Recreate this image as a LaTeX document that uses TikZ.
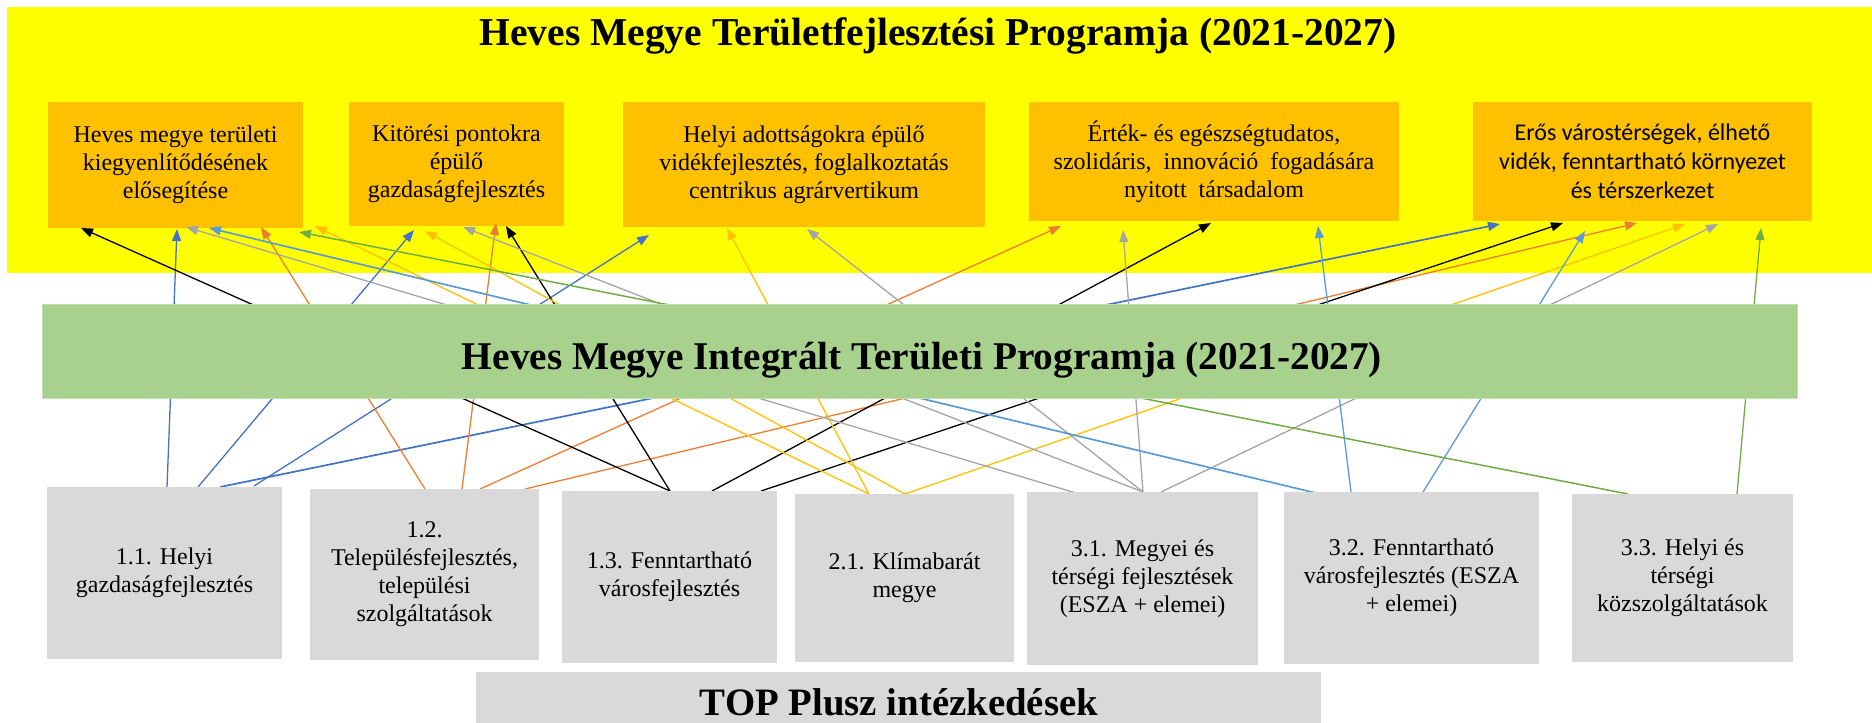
\documentclass[tikz,border=0pt]{standalone}
\usepackage{fontspec}
\setmainfont{Liberation Serif}
\newfontfamily\calibrifont{Carlito}
\usetikzlibrary{arrows.meta,calc}
\definecolor{cYel}{HTML}{FFFF00}
\definecolor{cOrg}{HTML}{FFC000}
\definecolor{cGrn}{HTML}{A9D18E}
\definecolor{cGry}{HTML}{D9D9D9}
\definecolor{lBlu}{HTML}{4472C4}
\definecolor{lOrg}{HTML}{ED7D31}
\definecolor{lGld}{HTML}{FFC000}
\definecolor{lGry}{HTML}{A5A5A5}
\definecolor{lLbl}{HTML}{5B9BD5}
\definecolor{lGrn}{HTML}{70AD47}
\begin{document}
\begin{tikzpicture}[x=1pt,y=-1pt,
  box/.style={anchor=north west, inner sep=0pt, outer sep=0pt, align=center,
    font=\fontsize{24}{28}\selectfont},
  obox/.style={box, fill=cOrg},
  gbox/.style={box, fill=cGry},
  bigtitle/.style={font=\fontsize{39.5}{44}\selectfont\bfseries, inner sep=0pt},
  conn/.style={line width=1.3pt, -{Triangle[length=12pt,width=9pt]}},
]
\useasboundingbox (0,0) rectangle (1872,723);
\fill[white] (0,0) rectangle (1872,723);

% yellow background
\node[box, fill=cYel, minimum width=1865pt, minimum height=266pt] (bg) at (7,7) {};
\node[bigtitle, anchor=base] (title) at (938,45) {Heves Megye Területfejlesztési Programja (2021-2027)};

% orange target boxes
\node[obox, minimum width=255pt, minimum height=126pt] (tA) at (48,102)
  {Heves megye területi\\kiegyenlítődésének\\elősegítése};
\node[obox, minimum width=215pt, minimum height=124pt] (tB) at (349,102)
  {Kitörési pontokra\\épülő\\gazdaságfejlesztés};
\node[obox, minimum width=362pt, minimum height=125pt] (tC) at (623,102)
  {Helyi adottságokra épülő\\vidékfejlesztés, foglalkoztatás\\centrikus agrárvertikum};
\node[obox, minimum width=370pt, minimum height=119pt] (tD) at (1029,102)
  {Érték- és egészségtudatos,\\szolidáris,\ \ innováció\ \ fogadására\\nyitott\ \ társadalom};
\node[obox, minimum width=339pt, minimum height=119pt,
  font=\calibrifont\fontsize{24}{29}\selectfont] (tE) at (1473,102)
  {Erős várostérségek, élhető\\vidék, fenntartható környezet\\és térszerkezet};

% bottom boxes (positions only, drawn after connectors)
\path
  (47,487)   coordinate (p11)
  (310,489)  coordinate (p12)
  (562,491)  coordinate (p13)
  (795,494)  coordinate (p21)
  (1027,492) coordinate (p31)
  (1284,492) coordinate (p32)
  (1572,494) coordinate (p33);

% connectors
% 1.1 blue
\draw[conn, lBlu] ($(p11)+(120,0)$) -- ($(tA.south west)+(129,1)$);
\draw[conn, lBlu] ($(p11)+(151,0)$) -- ($(tB.south west)+(65,4)$);
\draw[conn, lBlu, line width=1.7pt] ($(p11)+(173,0)$) -- ($(tE.south west)+(27,3)$);
\draw[conn, lBlu] ($(p11)+(207,-1)$) -- ($(tC.south west)+(26,8)$);
% 1.2 orange
\draw[conn, lOrg] ($(p12)+(115,0)$) -- ($(tA.south west)+(213,-1)$);
\draw[conn, lOrg] ($(p12)+(152,0)$) -- ($(tB.south west)+(147,-3)$);
\draw[conn, lOrg] ($(p12)+(170,0)$) -- ($(tD.south west)+(32,5)$);
\draw[conn, lOrg] ($(p12)+(215,0)$) -- ($(tE.south west)+(164,2)$);
% 1.3 black
\draw[conn, black] ($(p13)+(108,0)$) -- ($(tA.south west)+(33,0)$);
\draw[conn, black] ($(p13)+(108,0)$) -- ($(tB.south west)+(157,0)$);
\draw[conn, black] ($(p13)+(150,0)$) -- ($(tD.south west)+(182,2)$);
\draw[conn, black] ($(p13)+(199,0)$) -- ($(tE.south west)+(90,2)$);
% 2.1 gold
\draw[conn, lGld] ($(p21)+(74,0)$) -- ($(tA.south west)+(267,-2)$);
\draw[conn, lGld] ($(p21)+(74,0)$) -- ($(tC.south west)+(104,1)$);
\draw[conn, lGld] ($(p21)+(110,0)$) -- ($(tB.south west)+(76,5)$);
\draw[conn, lGld] ($(p21)+(110,0)$) -- ($(tE.south west)+(212,3)$);
% 3.1 gray
\draw[conn, lGry] ($(p31)+(49,1)$) -- ($(tA.south west)+(138,-1)$);
\draw[conn, lGry] ($(p31)+(116,0)$) -- ($(tB.south west)+(114,1)$);
\draw[conn, lGry] ($(p31)+(116,0)$) -- ($(tC.south west)+(184,2)$);
\draw[conn, lGry] ($(p31)+(116,0)$) -- ($(tD.south west)+(94,9)$);
\draw[conn, lGry] ($(p31)+(134,0)$) -- ($(tE.south west)+(245,3)$);
% 3.2 light blue
\draw[conn, lLbl, line width=1.7pt] ($(p32)+(32,1)$) -- ($(tA.south west)+(161,0)$);
\draw[conn, lLbl] ($(p32)+(67,0)$) -- ($(tD.south west)+(289,5)$);
\draw[conn, lLbl] ($(p32)+(139,0)$) -- ($(tE.south west)+(112,10)$);
% 3.3 green
\draw[conn, lGrn, line width=1.5pt] ($(p33)+(56,0)$) -- ($(tA.south west)+(251,4)$);
\draw[conn, lGrn] ($(p33)+(165,0)$) -- ($(tE.south west)+(288,7)$);

% green band
\node[box, fill=cGrn, draw=cGrn!70!white, line width=1pt, minimum width=1755pt, minimum height=94pt] (band) at (42,304) {};
\node[bigtitle, anchor=base, font=\fontsize{39.3}{44}\selectfont\bfseries] (bandtitle) at (922,369) {Heves Megye Integrált Területi Programja (2021-2027)};

% bottom boxes
\node[gbox, minimum width=235pt, minimum height=172pt] (b11) at (p11)
  {1.1. Helyi\\gazdaságfejlesztés};
\node[gbox, minimum width=229pt, minimum height=171pt] (b12) at (p12)
  {1.2.\\Településfejlesztés,\\települési\\szolgáltatások};
\node[gbox, minimum width=215pt, minimum height=172pt] (b13) at (p13)
  {1.3. Fenntartható\\városfejlesztés};
\node[gbox, minimum width=219pt, minimum height=168pt] (b21) at (p21)
  {2.1. Klímabarát\\megye};
\node[gbox, minimum width=231pt, minimum height=173pt] (b31) at (p31)
  {3.1. Megyei és\\térségi fejlesztések\\(ESZA + elemei)};
\node[gbox, minimum width=255pt, minimum height=172pt] (b32) at (p32)
  {3.2. Fenntartható\\városfejlesztés (ESZA\\+ elemei)};
\node[gbox, minimum width=221pt, minimum height=168pt] (b33) at (p33)
  {3.3. Helyi és\\térségi\\közszolgáltatások};

% TOP Plusz
\node[box, fill=cGry, minimum width=845pt, minimum height=51pt] (top) at (476,672) {};
\node[bigtitle, anchor=base, font=\fontsize{38.8}{44}\selectfont\bfseries] (toptitle) at (899,715) {TOP Plusz intézkedések};
\end{tikzpicture}
\end{document}
